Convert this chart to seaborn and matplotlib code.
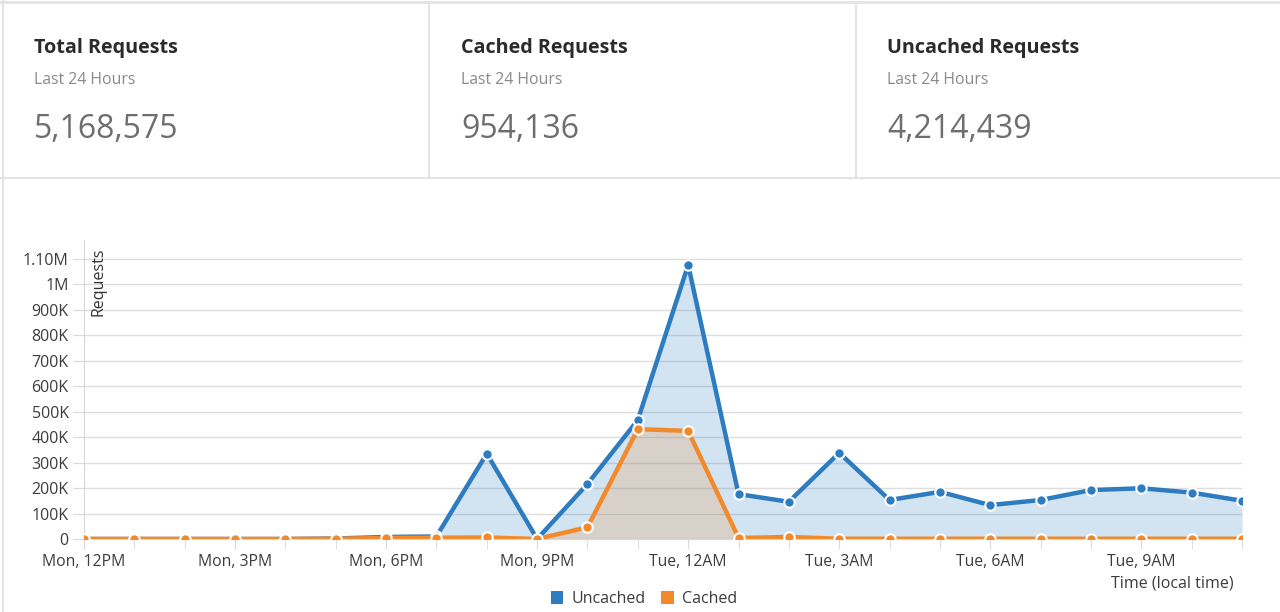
import pandas as pd
import matplotlib.pyplot as plt
import seaborn as sns
from matplotlib.lines import Line2D
from matplotlib.patches import Patch

# summary cards
card_titles = ['Total Requests', 'Cached Requests', 'Uncached Requests']
card_subtitle = 'Last 24 Hours'
card_values = ['5,168,575', '954,136', '4,214,439']

# hourly requests, Mon 12PM .. Tue 11AM
hours = list(range(24))
uncached = [0, 0, 0, 0, 0, 2000, 8000, 10000, 335000, 0, 216000, 467000,
            1075000, 176000, 146000, 338000, 153000, 185000, 133000, 153000,
            192000, 199000, 182000, 150000]
cached = [0, 0, 0, 0, 0, 1000, 4000, 5000, 6000, 0, 46000, 431000,
          424000, 4000, 8000, 1000, 1000, 1000, 1000, 1000,
          1000, 1000, 1000, 1000]
x_tick_pos = [0, 3, 6, 9, 12, 15, 18, 21]
x_tick_labels = ['Mon, 12PM', 'Mon, 3PM', 'Mon, 6PM', 'Mon, 9PM',
                 'Tue, 12AM', 'Tue, 3AM', 'Tue, 6AM', 'Tue, 9AM']
y_ticks = [0, 100000, 200000, 300000, 400000, 500000, 600000, 700000,
           800000, 900000, 1000000, 1100000]
y_tick_labels = ['0', '100K', '200K', '300K', '400K', '500K', '600K', '700K',
                 '800K', '900K', '1M', '1.10M']

df = pd.DataFrame({'hour': hours, 'Uncached': uncached, 'Cached': cached})

sns.set_style('white')
plt.rcParams['font.family'] = ['Open Sans', 'DejaVu Sans']

blue = '#2e7cc0'
orange = '#f28a2b'

fig = plt.figure(figsize=(12.8, 6.12), dpi=100)
W, H = 1280, 612

def fx(px):
    return px / W

def fy(py):
    return 1 - py / H

# card borders
border = '#e3e3e3'
fig.add_artist(Line2D([0, 1], [fy(2), fy(2)], color=border, lw=2))
fig.add_artist(Line2D([0, 1], [fy(178), fy(178)], color=border, lw=1.5))
fig.add_artist(Line2D([fx(3), fx(3)], [0, 1], color=border, lw=1.5))
for xd in [429, 856]:
    fig.add_artist(Line2D([fx(xd), fx(xd)], [fy(2), fy(178)], color=border, lw=1.5))

for i, (t, v) in enumerate(zip(card_titles, card_values)):
    x0 = [34, 461, 887][i]
    fig.text(fx(x0), fy(48), t, fontsize=14.2, fontweight='bold', color='#2b2b2b', va='center')
    fig.text(fx(x0), fy(80), card_subtitle, fontsize=11.4, color='#8a8a8a', va='center')
    fig.text(fx(x0), fy(129), v, fontsize=23, color='#6e6e6e', va='center')

ax = fig.add_axes([fx(84), fy(539), fx(1242) - fx(84), fy(240) - fy(539)])

ax.fill_between(df['hour'], df['Uncached'], color=blue, alpha=0.21, lw=0, zorder=1)
ax.fill_between(df['hour'], df['Cached'], color=orange, alpha=0.2, lw=0, zorder=2)
sns.lineplot(data=df, x='hour', y='Uncached', ax=ax, color=blue, lw=3.2,
             marker='o', markersize=7.5, markeredgecolor='white', markeredgewidth=1.5,
             zorder=3)
sns.lineplot(data=df, x='hour', y='Cached', ax=ax, color=orange, lw=3.2,
             marker='o', markersize=7.5, markeredgecolor='white', markeredgewidth=1.5,
             zorder=4)

ax.set_xlim(0, 23)
ax.set_ylim(0, 1173000)
ax.set_yticks(y_ticks)
ax.set_yticklabels(y_tick_labels)
ax.set_xticks(x_tick_pos)
ax.set_xticklabels(x_tick_labels)
ax.set_xticks(hours, minor=True)
ax.tick_params(axis='y', which='major', length=8, color='#d8d8d8', labelsize=11.5,
               labelcolor='#3c3c3c', pad=3, left=True)
ax.tick_params(axis='x', which='both', length=7, color='#d8d8d8', labelsize=11.3,
               labelcolor='#3c3c3c', pad=4, bottom=True, direction='out')
ax.grid(axis='y', color='#dedede', lw=1)
ax.set_axisbelow(True)
for s in ['top', 'right']:
    ax.spines[s].set_visible(False)
ax.spines['left'].set_color('#d8d8d8')
ax.spines['bottom'].set_color('#d8d8d8')
ax.set_xlabel('')
ax.set_ylabel('')

fig.text(fx(99), fy(247), 'Requests', rotation=90, ha='center', va='top',
         fontsize=11.5, color='#333333')
fig.text(fx(1234), fy(583), 'Time (local time)', ha='right', va='center',
         fontsize=11.5, color='#3c3c3c')

handles = [Patch(facecolor=blue, edgecolor='none'), Patch(facecolor=orange, edgecolor='none')]
fig.legend(handles, ['Uncached', 'Cached'], loc='center', ncol=2,
           bbox_to_anchor=(fx(644), fy(599)), frameon=False, fontsize=11.5,
           handlelength=0.8, handleheight=0.8, handletextpad=0.5, columnspacing=1.0,
           labelcolor='#3c3c3c')

fig.savefig('out.png', dpi=100)
